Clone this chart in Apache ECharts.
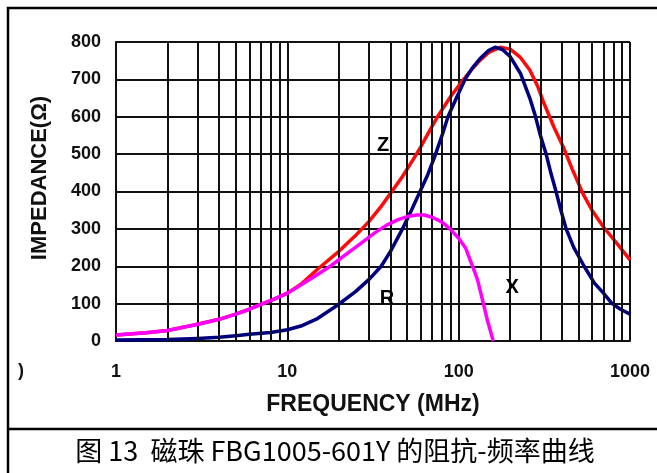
<!DOCTYPE html>
<html><head><meta charset="utf-8">
<script src="https://cdn.jsdelivr.net/npm/echarts@6/dist/echarts.min.js"></script>
<style>html,body{margin:0;padding:0;background:#fff}#c{width:657px;height:473px}</style>
</head><body><div id="c"></div>
<script>
// Z curve (red): frequency MHz, impedance ohm
const zFreq = [1, 1.5, 2, 3, 4, 5, 6, 7, 8, 10, 12, 15, 20, 25, 30, 35, 40, 47, 55, 60, 65, 75, 90, 106, 120, 133, 150, 175, 200, 230, 260, 290, 312, 360, 408, 460, 530, 600, 700, 850, 1000];
const zVal  = [16, 22, 28, 45, 58, 72, 85, 98, 108, 128, 152, 192, 240, 282, 320, 358, 395, 440, 490, 519, 548, 599, 655, 698, 728, 751, 772, 786, 781, 758, 725, 680, 640, 572, 519, 460, 395, 350, 305, 258, 217];
// X curve (navy)
const xFreq = [1, 2, 3, 4, 5, 6, 8, 10, 12, 15, 19.5, 25, 30, 35.3, 40, 47, 53, 59.5, 66, 72, 80, 86.6, 97, 109, 120, 133, 150, 163, 180, 199, 230, 260, 279, 300, 324, 345, 370, 395, 424, 470, 540, 620, 700, 786, 880, 1000];
const xVal  = [3, 4, 7, 10, 14, 18, 23, 30, 40, 60, 95, 132, 165, 200, 240, 300, 350, 400, 445, 490, 550, 600, 650, 700, 730, 755, 778, 786, 780, 762, 715, 650, 605, 550, 500, 450, 400, 350, 300, 250, 200, 155, 128, 100, 85, 72];
// R curve (magenta)
const rFreq = [1, 1.5, 2, 3, 4, 5, 6, 7, 8, 10, 12, 15, 17.8, 22, 27, 32.5, 38, 44, 50, 57, 63, 70, 80, 89, 100, 110, 117, 124, 129, 136, 142, 147, 153, 159];
const rVal  = [16, 22, 28, 45, 58, 72, 85, 98, 108, 128, 150, 178, 200, 232, 262, 290, 310, 324, 333, 337, 337, 331, 318, 300, 275, 248, 215, 185, 163, 120, 85, 56, 28, 0];
// curve name labels: [freq, value, text]
const curveLabels = [[36.2, 524, 'Z'], [38.2, 115, 'R'], [205, 144, 'X']];
// grid
const minorFreqs = [2,3,4,5,6,7,8,9,20,30,40,50,60,70,80,90,200,300,400,500,600,700,800,900];
const yTicks = [0, 100, 200, 300, 400, 500, 600, 700, 800];
const xTickLabels = ['1', '10', '100', '1000'];
const xTitle = 'FREQUENCY (MHz)';
const yTitle = 'IMPEDANCE(Ω)';
const caption = '图 13  磁珠 FBG1005-601Y 的阻抗-频率曲线';

const pair = (f, v) => f.map((x, i) => [x, v[i]]);
const FF = '"Liberation Sans", Arial, sans-serif';
const BOLD = {fontFamily: FF, fontWeight: 'bold', color: '#111'};

const chart = echarts.init(document.getElementById('c'), null, {renderer: 'canvas'});
chart.setOption({
  animation: false,
  backgroundColor: '#fff',
  grid: {left: 116, top: 42, right: 27, bottom: 132, containLabel: false},
  xAxis: {
    type: 'log', logBase: 10, min: 1, max: 1000,
    name: xTitle, nameLocation: 'middle', nameGap: 52,
    nameTextStyle: Object.assign({fontSize: 23}, BOLD),
    axisLine: {show: true, lineStyle: {color: '#111', width: 2}},
    axisTick: {show: false},
    axisLabel: Object.assign({fontSize: 18, margin: 22,
      formatter: v => { const s = String(Math.round(v)); return xTickLabels.includes(s) ? s : ''; }}, BOLD),
    splitLine: {show: true, lineStyle: {color: '#111', width: 2}}
  },
  yAxis: {
    type: 'value', min: yTicks[0], max: yTicks[yTicks.length - 1], interval: 100,
    axisLine: {show: true, lineStyle: {color: '#111', width: 2}},
    axisTick: {show: false},
    axisLabel: Object.assign({fontSize: 18, margin: 15}, BOLD),
    splitLine: {show: true, lineStyle: {color: '#111', width: 2}}
  },
  series: [
    {type: 'line', data: [[1, 0]], symbol: 'none', lineStyle: {width: 0}, z: 1, silent: true,
      markLine: {silent: true, symbol: 'none', label: {show: false},
        lineStyle: {color: '#111', width: 2, type: 'solid'},
        data: minorFreqs.map(v => ({xAxis: v}))}},
    {type: 'line', name: 'Z', data: pair(zFreq, zVal), symbol: 'none',
      lineStyle: {color: '#ff0a0a', width: 3.5, join: 'round'}, z: 3},
    {type: 'line', name: 'X', data: pair(xFreq, xVal), symbol: 'none',
      lineStyle: {color: '#00007f', width: 3.5, join: 'round'}, z: 4},
    {type: 'line', name: 'R', data: pair(rFreq, rVal), symbol: 'none',
      lineStyle: {color: '#ff00ff', width: 3.5, join: 'round'}, z: 5},
    {type: 'scatter', data: curveLabels.map(d => ({value: [d[0], d[1]], name: d[2]})),
      symbolSize: 1, z: 6, silent: true, itemStyle: {opacity: 0},
      label: {show: true, position: 'inside', fontSize: 20, fontFamily: FF, fontWeight: 'bold',
        color: '#000', opacity: 1, textBorderWidth: 0, formatter: p => p.name}}
  ],
  graphic: [
    {type: 'polyline', shape: {points: [[8, 480], [8, 8], [665, 8]]}, style: {stroke: '#000', lineWidth: 2.5, fill: null}},
    {type: 'line', shape: {x1: 8, y1: 429, x2: 665, y2: 429}, style: {stroke: '#000', lineWidth: 2.5}},
    {type: 'text', x: 40, y: 178, rotation: Math.PI / 2,
      style: {text: yTitle, fontSize: 22, fontFamily: FF, fontWeight: 'bold', fill: '#111', align: 'center', verticalAlign: 'middle'}},
    {type: 'text', left: 18, top: 362, style: {text: ')', fontSize: 18, fill: '#111', fontFamily: FF, fontWeight: 'bold'}},
    {type: 'text', x: 335, y: 451, style: {text: caption, fontSize: 27, fill: '#000', align: 'center', verticalAlign: 'middle',
      fontFamily: '"Noto Sans CJK SC", sans-serif'}}
  ]
});
</script></body></html>
